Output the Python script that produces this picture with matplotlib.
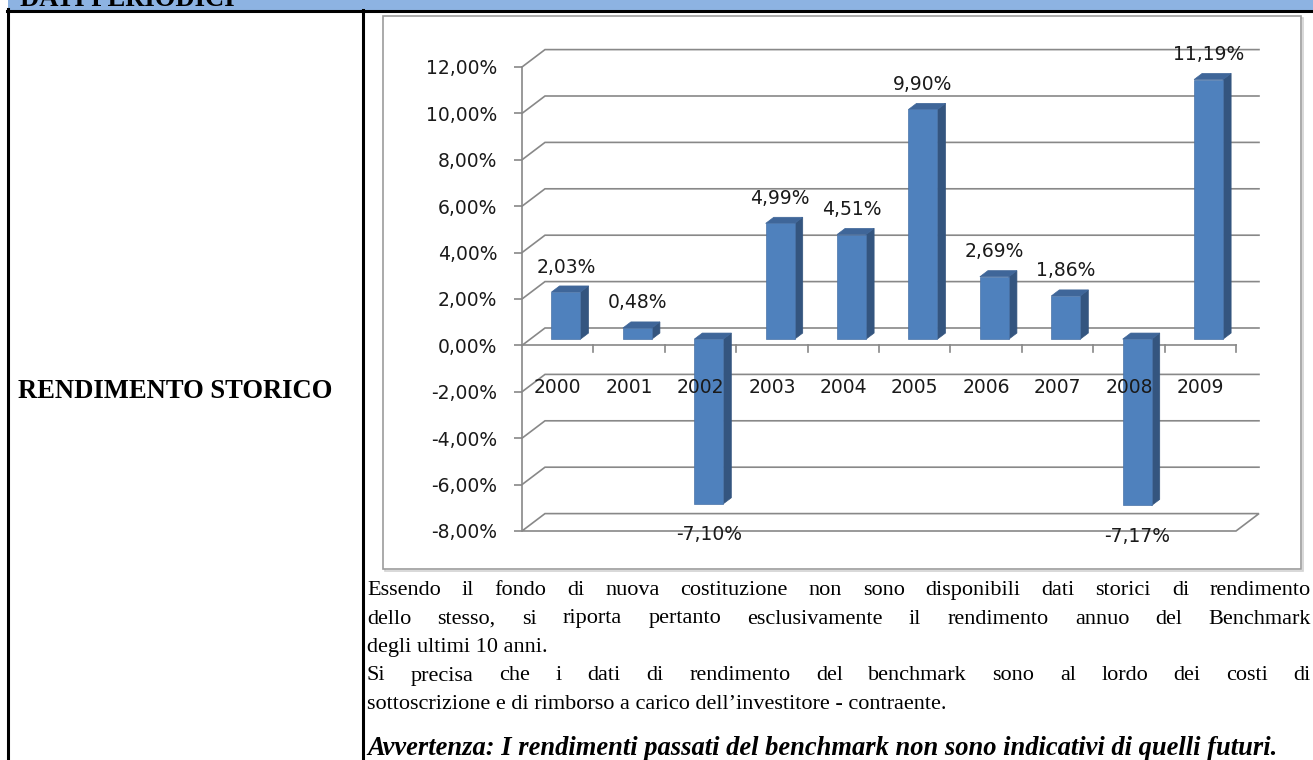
import matplotlib
matplotlib.use('Agg')
import matplotlib.pyplot as plt
from matplotlib.patches import Polygon, Rectangle
from matplotlib.lines import Line2D

# ---------------- data ----------------
years = ['2000', '2001', '2002', '2003', '2004', '2005', '2006', '2007', '2008', '2009']
returns = [2.03, 0.48, -7.10, 4.99, 4.51, 9.90, 2.69, 1.86, -7.17, 11.19]
yticks = [-8, -6, -4, -2, 0, 2, 4, 6, 8, 10, 12]
ytick_labels = ['-8,00%', '-6,00%', '-4,00%', '-2,00%', '0,00%', '2,00%',
                '4,00%', '6,00%', '8,00%', '10,00%', '12,00%']
value_labels = ['2,03%', '0,48%', '-7,10%', '4,99%', '4,51%', '9,90%',
                '2,69%', '1,86%', '-7,17%', '11,19%']
header_text = 'DATI PERIODICI'
row_label = 'RENDIMENTO STORICO'
body_lines = [
    ('Essendo il fondo di nuova costituzione non sono disponibili dati storici di rendimento', True),
    ('dello stesso, si riporta pertanto esclusivamente il rendimento annuo del Benchmark', True),
    ('degli ultimi 10 anni.', False),
    ('Si precisa che i dati di rendimento del benchmark sono al lordo dei costi di', True),
    ('sottoscrizione e di rimborso a carico dell\u2019investitore - contraente.', False),
]
warning_text = 'Avvertenza: I rendimenti passati del benchmark non sono indicativi di quelli futuri.'

# ---------------- figure ----------------
W, H = 1313, 760
fig = plt.figure(figsize=(W / 100, H / 100), dpi=100)
fig.patch.set_facecolor('white')


def fx(x):
    return x / W


def fy(y):
    return 1 - y / H


# header band
fig.patches.append(Rectangle((fx(8), fy(10)), 1 - fx(8), 10 / H, transform=fig.transFigure,
                             facecolor='#8DB3E2', edgecolor='none', zorder=0))
fig.text(fx(20), fy(6), header_text, family='Liberation Serif', fontweight='bold',
         fontsize=19.2, va='baseline', ha='left', color='black')

# table lines
lw_tab = 2.2
fig.lines.append(Line2D([fx(6.5), 1], [fy(10.5), fy(10.5)], transform=fig.transFigure,
                        color='black', lw=lw_tab, zorder=2))
fig.lines.append(Line2D([fx(8), fx(8)], [fy(9), 0], transform=fig.transFigure,
                        color='black', lw=lw_tab, zorder=2))
fig.lines.append(Line2D([fx(362.5), fx(362.5)], [fy(10), 0], transform=fig.transFigure,
                        color='black', lw=lw_tab, zorder=2))

fig.text(fx(18), fy(398), row_label, family='Liberation Serif', fontweight='bold',
         fontsize=19.2, va='baseline', ha='left', color='black')

# chart border with light shadow
fig.patches.append(Rectangle((fx(385), fy(571)), (1303 - 385) / W, (571 - 18) / H,
                             transform=fig.transFigure, facecolor='none',
                             edgecolor='#d2d2d2', lw=1.2, zorder=-2))
fig.patches.append(Rectangle((fx(383), fy(569)), (1301 - 383) / W, (569 - 16) / H,
                             transform=fig.transFigure, facecolor='white',
                             edgecolor='#9c9c9c', lw=1.2, zorder=-1))

# ---------------- chart axes ----------------
x_left, x_right = 522, 1236
y_top, y_bot = 67, 531
ax = fig.add_axes([fx(x_left), fy(y_bot), (x_right - x_left) / W, (y_bot - y_top) / H])
ax.set_zorder(5)
ax.set_xlim(-0.5, 9.5)
ax.set_ylim(-8, 12)
ax.patch.set_visible(False)
for s in ['top', 'right', 'bottom']:
    ax.spines[s].set_visible(False)
grid_c = '#888888'
chart_fs = 13.5
ax.spines['left'].set_color(grid_c)
ax.spines['left'].set_linewidth(1.2)
ax.set_xticks([])
ax.set_yticks(yticks)
ax.set_yticklabels(ytick_labels)
ax.tick_params(axis='y', length=5.8, width=1.2, color=grid_c, pad=12,
               labelsize=chart_fs, labelcolor='#1a1a1a')
for lab in ax.get_yticklabels():
    lab.set_family('DejaVu Sans')

DX = 0.322   # depth in category units
DY = 0.75    # depth in % units
f = 0.36     # depth position of bar front face
g = 0.35     # bar depth fraction
w = 0.406    # bar width

# back wall grid lines & left wall diagonals
for v in yticks:
    if v == yticks[0]:
        ax.add_patch(Polygon([(-0.5, v), (9.5, v), (9.5 + DX, v + DY), (-0.5 + DX, v + DY)],
                             closed=True, facecolor='none', edgecolor=grid_c, lw=1.2,
                             clip_on=False, zorder=1))
    else:
        ax.plot([-0.5, -0.5 + DX, 9.5 + DX], [v, v + DY, v + DY], color=grid_c, lw=1.2,
                clip_on=False, zorder=1, solid_joinstyle='miter')

# category axis at zero (front)
ax.plot([-0.5, 9.5], [0, 0], color=grid_c, lw=1.2, clip_on=False, zorder=2)
for k in range(len(years)):
    b = k + 0.5
    ax.plot([b, b], [0, -0.3], color=grid_c, lw=1.2, clip_on=False, zorder=2)

front_c = '#4F81BD'
side_c = '#34557F'
top_c = '#3F6699'
edge_c = '#4a73a8'

for i, v in enumerate(returns):
    c = i + f * DX
    base = f * DY
    top = base + v
    xl, xr = c - w / 2, c + w / 2
    gdx, gdy = g * DX, g * DY
    ax.add_patch(Polygon([(xr, base), (xr, top), (xr + gdx, top + gdy), (xr + gdx, base + gdy)],
                         closed=True, facecolor=side_c, edgecolor=side_c, lw=0.5,
                         clip_on=False, zorder=3))
    ytop = max(base, top)
    ax.add_patch(Polygon([(xl, ytop), (xr, ytop), (xr + gdx, ytop + gdy), (xl + gdx, ytop + gdy)],
                         closed=True, facecolor=top_c, edgecolor=top_c, lw=0.5,
                         clip_on=False, zorder=3))
    ax.add_patch(Rectangle((xl, base), w, v, facecolor=front_c, edgecolor=edge_c, lw=0.5,
                           clip_on=False, zorder=3))
    off = 18 if v >= 0 else -22
    ax.annotate(value_labels[i], xy=(c, top), xytext=(0, off), textcoords='offset points',
                ha='center', va='center', fontsize=chart_fs, color='#1a1a1a',
                family='DejaVu Sans', annotation_clip=False, zorder=5)

for i, yr in enumerate(years):
    ax.annotate(yr, xy=(i, 0), xytext=(0, -30), textcoords='offset points',
                ha='center', va='center', fontsize=chart_fs, color='#1a1a1a',
                family='DejaVu Sans', annotation_clip=False, zorder=5)

# ---------------- body text (justified) ----------------
fig.canvas.draw()
renderer = fig.canvas.get_renderer()
body_fs = 16
x0, x1 = 367, 1311
baselines = [595, 623.5, 652, 680.5, 709]
for (line, just), yb in zip(body_lines, baselines):
    if just:
        words = line.split(' ')
        texts = [fig.text(0, fy(yb), wd, family='Liberation Serif', fontsize=body_fs,
                          va='baseline', ha='left', color='black') for wd in words]
        widths = [t.get_window_extent(renderer).width for t in texts]
        gap = (x1 - x0 - sum(widths)) / (len(words) - 1)
        xc = x0
        for t, wd in zip(texts, widths):
            t.set_x(fx(xc))
            xc += wd + gap
    else:
        fig.text(fx(x0), fy(yb), line, family='Liberation Serif', fontsize=body_fs,
                 va='baseline', ha='left', color='black')

fig.text(fx(x0), fy(755), warning_text, family='Liberation Serif', fontsize=19.1,
         fontweight='bold', fontstyle='italic', va='baseline', ha='left', color='black')

fig.savefig('out.png', dpi=100)
